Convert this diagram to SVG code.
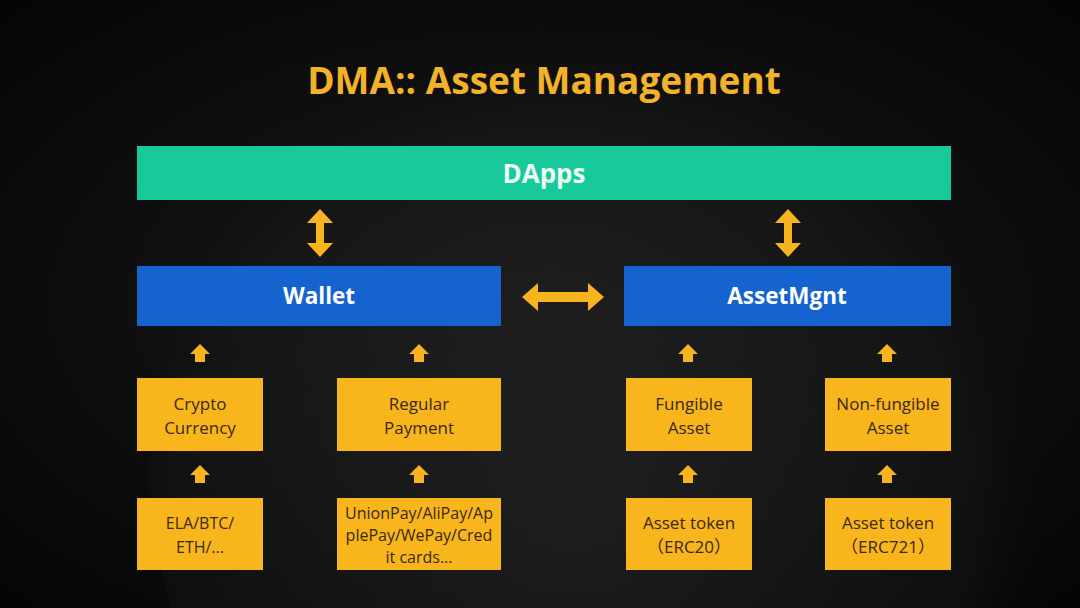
<svg xmlns="http://www.w3.org/2000/svg" width="1080" height="608" viewBox="0 0 1080 608">
  <defs>
    <radialGradient id="bg" cx="0.5" cy="0.5" r="0.7">
      <stop offset="0" stop-color="#1a1a1a"/>
      <stop offset="1" stop-color="#050505"/>
    </radialGradient>
    <radialGradient id="globe" cx="0.45" cy="0.55" r="0.5">
      <stop offset="0" stop-color="#2a2a2a" stop-opacity="0.55"/>
      <stop offset="0.85" stop-color="#1c1c1c" stop-opacity="0.35"/>
      <stop offset="1" stop-color="#111" stop-opacity="0"/>
    </radialGradient>
    <path id="vdbl" d="M0,-24 L13,-10 L4,-10 L4,10 L13,10 L0,24 L-13,10 L-4,10 L-4,-10 L-13,-10 Z"/>
    <path id="up" d="M0,-9 L10,1 L5,1 L5,9 L-5,9 L-5,1 L-10,1 Z"/>
  </defs>
  <style>
    .title{font-family:"Open Sans","Liberation Sans",sans-serif;font-weight:700;font-size:37px;fill:#f2b22a}
    .bar{font-family:"Open Sans","Liberation Sans",sans-serif;font-weight:700;fill:#ffffff;text-anchor:middle;font-size:22.5px}
    .box{fill:#f9b51c}
    .bt{font-family:"Open Sans","Liberation Sans","Noto Sans CJK SC",sans-serif;font-size:17px;fill:#3a2810;text-anchor:middle}
    .bt.s16{font-size:16px}
    .arr{fill:#f7b41f}
  </style>
  <rect width="1080" height="608" fill="url(#bg)"/>
  <circle cx="620" cy="470" r="470" fill="url(#globe)"/>
  <text class="title" x="544" y="94" text-anchor="middle">DMA:: Asset Management</text>

  <g id="dapps">
    <rect x="137" y="146" width="814" height="54" fill="#18c99a"/>
    <text class="bar" x="544" y="183" style="font-size:26px;fill:#eafaf4">DApps</text>
  </g>
  <g id="wallet">
    <rect x="137" y="266" width="364" height="60" fill="#1463cf"/>
    <text class="bar" x="319" y="304">Wallet</text>
  </g>
  <g id="assetmgnt">
    <rect x="624" y="266" width="327" height="60" fill="#1463cf"/>
    <text class="bar" x="787" y="304">AssetMgnt</text>
  </g>

  <g id="crypto">
    <rect class="box" x="137" y="378" width="126" height="73"/>
    <text class="bt" x="200" y="410">Crypto</text>
    <text class="bt" x="200" y="434">Currency</text>
  </g>
  <g id="regular">
    <rect class="box" x="337" y="378" width="164" height="73"/>
    <text class="bt" x="419" y="410">Regular</text>
    <text class="bt" x="419" y="434">Payment</text>
  </g>
  <g id="fungible">
    <rect class="box" x="626" y="378" width="126" height="73"/>
    <text class="bt" x="689" y="410">Fungible</text>
    <text class="bt" x="689" y="434">Asset</text>
  </g>
  <g id="nonfungible">
    <rect class="box" x="825" y="378" width="126" height="73"/>
    <text class="bt" x="888" y="410">Non-fungible</text>
    <text class="bt" x="888" y="434">Asset</text>
  </g>

  <g id="ela">
    <rect class="box" x="137" y="498" width="126" height="72"/>
    <text class="bt s16" x="200" y="529">ELA/BTC/</text>
    <text class="bt s16" x="200" y="553">ETH/...</text>
  </g>
  <g id="unionpay">
    <rect class="box" x="337" y="498" width="164" height="72"/>
    <text class="bt s16" x="419" y="519">UnionPay/AliPay/Ap</text>
    <text class="bt s16" x="419" y="541">plePay/WePay/Cred</text>
    <text class="bt s16" x="419" y="563">it cards...</text>
  </g>
  <g id="erc20">
    <rect class="box" x="626" y="498" width="126" height="72"/>
    <text class="bt" x="689" y="529">Asset token</text>
    <text class="bt" x="689" y="553">（ERC20）</text>
  </g>
  <g id="erc721">
    <rect class="box" x="825" y="498" width="126" height="72"/>
    <text class="bt" x="888" y="529">Asset token</text>
    <text class="bt" x="888" y="553">（ERC721）</text>
  </g>

  <g id="connectors" class="arr">
    <use href="#vdbl" x="320" y="233"/>
    <use href="#vdbl" x="788" y="233"/>
    <path d="M522,297 L538,283 L538,292 L588,292 L588,283 L604,297 L588,311 L588,302 L538,302 L538,311 Z"/>
    <use href="#up" x="200" y="353"/>
    <use href="#up" x="419" y="353"/>
    <use href="#up" x="688" y="353"/>
    <use href="#up" x="887" y="353"/>
    <use href="#up" x="200" y="474"/>
    <use href="#up" x="419" y="474"/>
    <use href="#up" x="688" y="474"/>
    <use href="#up" x="887" y="474"/>
  </g>
</svg>
